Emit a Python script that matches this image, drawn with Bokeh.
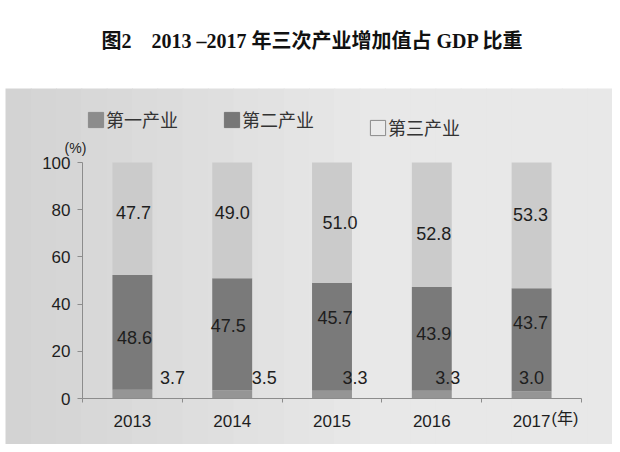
from bokeh.plotting import figure
from bokeh.models import (Range1d, FixedTicker, Label, Legend, LegendItem,
                          ColumnDataSource, BoxAnnotation)
from bokeh.embed import file_html
from bokeh.resources import INLINE
from bokeh.core.properties import value

# ---------------- data ----------------
years = ["2013", "2014", "2015", "2016", "2017"]
primary = [3.7, 3.5, 3.3, 3.3, 3.0]        # 第一产业
secondary = [48.6, 47.5, 45.7, 43.9, 43.7]  # 第二产业
tertiary = [47.7, 49.0, 51.0, 52.8, 53.3]   # 第三产业
series_names = ["第一产业", "第二产业", "第三产业"]
y_ticks = [0, 20, 40, 60, 80, 100]
title_text = "图2　2013 –2017 年三次产业增加值占 GDP 比重"

# ---------------- styles / layout (pixels from the figure's top-left) ----------------
W, H = 612, 444
plot_left, plot_right = 82, 581      # pixel span of the category axis
plot_top, plot_bottom = 162, 398     # pixel rows of 100 % and 0 %
panel_top, panel_left = 88, 5        # grey panel edges
bar_colors = ["#959595", "#7a7a7a", "#cbcbcb"]
legend_fill = ["#8c8c8c", "#777777", "#ebebeb"]
legend_line = ["#8c8c8c", "#777777", "#8a8a8a"]
bg_left, bg_right = 0xd3, 0xe8
num_font = "'Liberation Sans', 'Noto Sans CJK SC'"
cjk_font = "'Noto Sans CJK SC'"
# label nudges in screen pixels (x right, y up), per bar
prim_dx = [40, 32, 23, 16, 0]
prim_dy = 21
sec_dx = [2, -4, 3, 2, -1]
sec_dy = [-5, 9, 19, 5, 17]
ter_dx = [1, 0, 8, 2, -1]
ter_dy = [6, 8, 0, -9, 11]

n = len(years)
xs = [i + 0.5 for i in range(n)]
source = ColumnDataSource(dict(x=xs, years=years, primary=primary,
                               secondary=secondary, tertiary=tertiary))

ppx = (plot_right - plot_left) / n          # pixels per category
ppy = (plot_bottom - plot_top) / 100.0      # pixels per percent
x_range = Range1d(-plot_left / ppx, (W - plot_left) / ppx)
y_range = Range1d(-(H - plot_bottom) / ppy, plot_bottom / ppy)

p = figure(width=W, height=H, output_backend="svg", toolbar_location=None,
           x_range=x_range, y_range=y_range, min_border=0,
           outline_line_color=None, background_fill_color="white",
           border_fill_color="white")
p.grid.visible = False

# grey panel with a soft horizontal gradient
panel_y = (plot_bottom - panel_top) / ppy
x0 = (panel_left - plot_left) / ppx
span = x_range.end - x0
steps = 24
for k in range(steps):
    t = k / (steps - 1)
    g = int(round(bg_left + (bg_right - bg_left) * min(1.0, t / 0.6)))
    p.add_layout(BoxAnnotation(left=x0 + span * k / steps,
                               right=x0 + span * (k + 1) / steps + 0.01,
                               top=panel_y, fill_color="#%02x%02x%02x" % (g, g, g),
                               fill_alpha=1, line_color=None, level="underlay"))

bars = p.vbar_stack(["primary", "secondary", "tertiary"], x="x", width=0.4,
                    fill_color=bar_colors, line_color=None, source=source)

# value labels
def add_labels(vals, ys, dx, dy):
    src = ColumnDataSource(dict(x=xs, y=ys, t=["%.1f" % v for v in vals],
                                dx=dx, dy=[-d for d in dy]))
    p.text(x="x", y="y", text="t", x_offset="dx", y_offset="dy", source=src,
           text_align="center", text_baseline="middle",
           text_font=value("Liberation Sans"), text_font_size="18px",
           text_color="#1e1e1e")

add_labels(primary, [0] * n, prim_dx, [prim_dy] * n)
add_labels(secondary, [a + b / 2 for a, b in zip(primary, secondary)], sec_dx, sec_dy)
add_labels(tertiary, [a + b + c / 2 for a, b, c in zip(primary, secondary, tertiary)],
           ter_dx, ter_dy)

# axes (placed inside the frame)
ax_col = "#8c8c8c"
p.yaxis.fixed_location = 0
p.yaxis.bounds = (0, 100)
p.yaxis.ticker = FixedTicker(ticks=y_ticks)
p.yaxis.major_tick_out = 5
p.yaxis.major_tick_in = 0
p.yaxis.minor_tick_out = 0
p.yaxis.axis_line_color = ax_col
p.yaxis.major_tick_line_color = ax_col
p.yaxis.major_label_standoff = 7
p.yaxis.major_label_text_font = num_font
p.yaxis.major_label_text_font_size = "17px"
p.yaxis.major_label_text_color = "#1e1e1e"

p.xaxis.fixed_location = 0
p.xaxis.bounds = (0, n)
p.xaxis.ticker = FixedTicker(ticks=xs, minor_ticks=list(range(n + 1)))
p.xaxis.major_label_overrides = {x: y for x, y in zip(xs, years)}
p.xaxis.major_tick_out = 0
p.xaxis.major_tick_in = 0
p.xaxis.minor_tick_out = 4
p.xaxis.minor_tick_in = 0
p.xaxis.axis_line_color = ax_col
p.xaxis.minor_tick_line_color = ax_col
p.xaxis.major_label_standoff = 12
p.xaxis.major_label_text_font = num_font
p.xaxis.major_label_text_font_size = "17px"
p.xaxis.major_label_text_color = "#1e1e1e"

# title and unit labels
p.add_layout(Label(x=312, y=H - 40, x_units="screen", y_units="screen",
                   text=title_text, text_align="center", text_baseline="middle",
                   text_font="'Liberation Serif', 'Noto Sans CJK SC'",
                   text_font_style="bold", text_font_size="20px",
                   text_color="#111111"))
p.add_layout(Label(x=75, y=H - 147, x_units="screen", y_units="screen",
                   text="(%)", text_align="center", text_baseline="middle",
                   text_font=num_font, text_font_size="14px", text_color="#1e1e1e"))
p.add_layout(Label(x=xs[-1], y=H - 418, x_units="data", y_units="screen", x_offset=20,
                   text="(年)", text_align="left", text_baseline="middle",
                   text_font=num_font, text_font_size="16px", text_color="#1e1e1e"))

# legend: hidden one-bar renderers carry the legend swatches
dummies = []
for f, l in zip(legend_fill, legend_line):
    r = p.vbar(x=[xs[0]], top=[0], width=0.4, fill_color=f, line_color=l)
    r.visible = False
    dummies.append(r)

def make_legend(idx, loc):
    return Legend(items=[LegendItem(label=series_names[i], renderers=[dummies[i]])
                         for i in idx],
                  orientation="horizontal", location=loc, padding=0, margin=0,
                  spacing=44, label_standoff=1, glyph_width=19, glyph_height=19,
                  label_text_font=cjk_font, label_text_font_size="18px",
                  label_text_color="#333333", background_fill_alpha=0,
                  border_line_color=None, inactive_fill_alpha=0)

p.add_layout(make_legend([0, 1], (86, 312)))
p.add_layout(make_legend([2], (368, 304)))

open("out.html", "w").write(file_html(p, INLINE))
